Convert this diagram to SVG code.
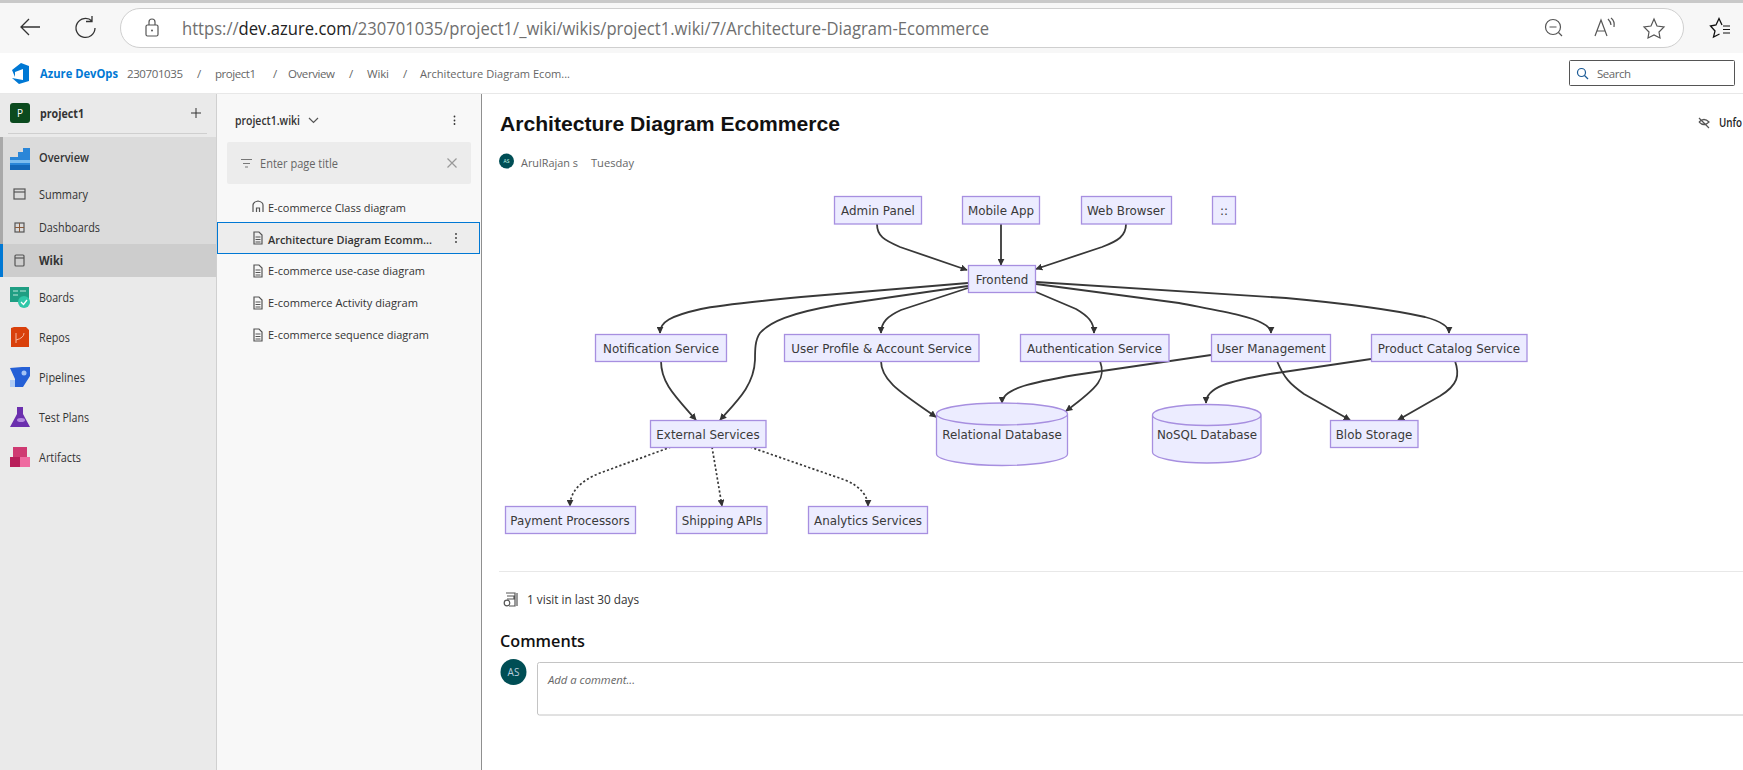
<svg xmlns="http://www.w3.org/2000/svg" width="1743" height="770" viewBox="0 0 1743 770">
<style>
text{font-family:"Open Sans","Liberation Sans",sans-serif;fill:#333}
.n rect,.n path.b{fill:#ececff;stroke:#a78fe0;stroke-width:1.3}
.n text{font-family:"DejaVu Sans",sans-serif;font-size:11.9px;fill:#3a3a3a;text-anchor:middle}
.e{fill:none;stroke:#383838;stroke-width:1.8;marker-end:url(#ah)}
.d{stroke-dasharray:2.2 2.2;stroke-width:1.7}
.nav{font-size:12px;fill:#333}
.pg{font-size:11.5px;fill:#333}
.cr{font-size:11.5px;fill:#666}
.ic{fill:none;stroke:#555;stroke-width:1.2}
</style>
<defs>
<marker id="ah" viewBox="0 0 10 10" refX="9" refY="5" markerUnits="userSpaceOnUse" markerWidth="7" markerHeight="7" orient="auto"><path d="M0,0L10,5L0,10z" fill="#333"/></marker>
</defs>
<rect width="1743" height="770" fill="#fff"/>
<g id="browser-chrome">
<rect width="1743" height="53" fill="#f7f7f7"/>
<rect width="1743" height="3" fill="#c9c9c9"/>
<rect x="120.500" y="8.500" width="1563" height="39" rx="19.500" fill="#fff" stroke="#cfcfcf"/>
<path d="M40,27H21M29,19L21,27L29,35" fill="none" stroke="#333" stroke-width="1.3"/>
<path d="M92,21A9.500,9.500 0 1 0 95,28M92,16V21.500H86" fill="none" stroke="#333" stroke-width="1.3"/>
<rect x="146" y="25" width="12" height="11" rx="1.500" class="ic"/><path d="M149,25V22A3,3 0 0 1 155,22V25" class="ic"/><circle cx="152" cy="30.500" r="1" fill="#555"/>
<text x="182" y="35" font-size="18" style="fill:#6f6f6f" textLength="807" lengthAdjust="spacingAndGlyphs">https://<tspan style="fill:#222">dev.azure.com</tspan>/230701035/project1/_wiki/wikis/project1.wiki/7/Architecture-Diagram-Ecommerce</text>
<circle cx="1553" cy="27" r="7.500" class="ic"/><path d="M1549.500,27H1556.500M1558.500,32.500L1562,36" class="ic"/>
<path d="M1595,36L1601,20L1607,36M1597,31H1605M1608,19Q1611,22 1611,25M1611,18Q1615,21 1614,27" class="ic"/>
<path d="M1654,19L1657,26L1664,27L1659,32L1660,38L1654,35L1648,38L1649,32L1644,27L1651,26z" class="ic"/>
<path d="M1722,25L1719,18.500L1716,25L1710.500,26L1715,31L1713.500,37L1719.500,34" fill="none" stroke="#111" stroke-width="1.300"/><path d="M1723,26H1730M1723,29.500H1730M1723,33H1730" stroke="#111"/>
</g>
<g id="header-bar">
<rect y="53" width="1743" height="40" fill="#fff"/>
<path d="M0,93.500H1743" stroke="#e8e8e8"/>
<path d="M12,70L21,63L29,66V81L19,84L12,78L23,80V69L15,72V77z" fill="#0078d4"/>
<text x="40" y="78" font-size="12.500" font-weight="700" style="fill:#0078d4" textLength="78" lengthAdjust="spacingAndGlyphs">Azure DevOps</text>
<text x="127" y="78" class="cr" textLength="56">230701035</text>
<text x="197" y="78" class="cr">/</text><text x="215" y="78" class="cr" textLength="41">project1</text>
<text x="273" y="78" class="cr">/</text><text x="288" y="78" class="cr" textLength="47">Overview</text>
<text x="349" y="78" class="cr">/</text><text x="367" y="78" class="cr" textLength="22">Wiki</text>
<text x="403" y="78" class="cr">/</text><text x="420" y="78" class="cr" textLength="150" lengthAdjust="spacingAndGlyphs">Architecture Diagram Ecom...</text>
<rect x="1569.500" y="60.500" width="165" height="25" rx="1" fill="#fff" stroke="#555"/>
<circle cx="1581.500" cy="72.500" r="4" fill="none" stroke="#1a5a96" stroke-width="1.200"/><path d="M1584.500,75.500L1588,79" stroke="#1a5a96" stroke-width="1.200"/>
<text x="1597" y="78" class="cr" textLength="34">Search</text>
</g>
<g id="project-sidebar">
<rect y="94" width="216" height="676" fill="#eaeaea"/>
<path d="M216.500,94V770" stroke="#d0d0d0"/>
<rect y="137" width="216" height="107" fill="#dbdbdb"/>
<rect y="137" width="3" height="107" fill="#a9a9a9"/>
<rect y="244" width="216" height="33" fill="#cdcdcd"/>
<rect y="244" width="3" height="33" fill="#0078d4"/>
<rect x="10" y="103" width="20" height="20" rx="3" fill="#0b4a1e"/>
<text x="20" y="117" font-size="10" style="fill:#fff" text-anchor="middle">P</text>
<text x="40" y="118" font-size="12.500" font-weight="700" textLength="44" lengthAdjust="spacingAndGlyphs">project1</text>
<path d="M196,108V118M191,113H201" stroke="#333"/>
<path d="M8,133.500H207" stroke="#cfcfcf"/>
<path d="M10,157H18V152H23V148H30V170H10z" fill="#2a86d8"/><rect x="10" y="160" width="20" height="3" fill="#7cbcee"/><rect x="10" y="165" width="20" height="5" fill="#1467b8"/>
<text x="39" y="162" class="nav" font-weight="600" textLength="50" lengthAdjust="spacingAndGlyphs">Overview</text>
<rect x="14" y="189" width="11" height="10" class="ic"/><path d="M14,192H25" class="ic"/>
<text x="39" y="199" class="nav" textLength="49" lengthAdjust="spacingAndGlyphs">Summary</text>
<rect x="15" y="223" width="9" height="9" class="ic"/><path d="M19.500,223V232M15,227.500H24" stroke="#8a5a3a"/>
<text x="39" y="232" class="nav" textLength="61" lengthAdjust="spacingAndGlyphs">Dashboards</text>
<rect x="15" y="255" width="9" height="11" rx="1" class="ic"/><path d="M15,258H24" class="ic"/>
<text x="39" y="265" class="nav" font-weight="700" textLength="24" lengthAdjust="spacingAndGlyphs">Wiki</text>
<rect x="10" y="287" width="19" height="15" fill="#1f9e83"/><path d="M13,291H18M20,291H26M13,295H18" stroke="#bfe8dc"/><circle cx="24" cy="302" r="6" fill="#2fc7a8"/><path d="M21,302L23.500,304.500L27,300" fill="none" stroke="#fff" stroke-width="1.300"/>
<text x="39" y="302" class="nav" textLength="35" lengthAdjust="spacingAndGlyphs">Boards</text>
<path d="M11,328L14,327H26L29,330V347H11z" fill="#d9400b"/><path d="M16,333V343M24,333Q24,338 16,340" fill="none" stroke="#f5b79f"/>
<text x="39" y="342" class="nav" textLength="31" lengthAdjust="spacingAndGlyphs">Repos</text>
<path d="M10,368L22,367L30,367V376L23,387H15V379z" fill="#2560d6"/><circle cx="24" cy="373" r="2.500" fill="#a4c4f5"/><path d="M10,380H15V387H10z" fill="#b0ccf5"/>
<text x="39" y="382" class="nav" textLength="46" lengthAdjust="spacingAndGlyphs">Pipelines</text>
<path d="M17,407H23V414L30,427H10L17,414z" fill="#6b2fae"/><ellipse cx="21" cy="420" rx="4" ry="2" fill="#b48ae0"/>
<text x="39" y="422" class="nav" textLength="50" lengthAdjust="spacingAndGlyphs">Test Plans</text>
<rect x="13" y="447" width="14" height="10" fill="#cf3a72"/><rect x="10" y="457" width="10" height="10" fill="#b81f5a"/><rect x="20" y="457" width="10" height="10" fill="#ef6aa0"/>
<text x="39" y="462" class="nav" textLength="42" lengthAdjust="spacingAndGlyphs">Artifacts</text>
</g>
<g id="wiki-panel">
<rect x="217" y="94" width="264" height="676" fill="#f8f8f8"/>
<path d="M481.500,94V770" stroke="#8f8f8f"/>
<text x="235" y="125" font-size="12" font-weight="600" textLength="65" lengthAdjust="spacingAndGlyphs">project1.wiki</text>
<path d="M309,118L313.500,122.500L318,118" class="ic"/>
<circle cx="454.500" cy="116.500" r=".9" fill="#333"/><circle cx="454.500" cy="120.500" r=".9" fill="#333"/><circle cx="454.500" cy="124" r=".9" fill="#333"/>
<rect x="227" y="142" width="244" height="42" rx="2" fill="#ececec"/>
<path d="M241,159.500H252M243,163.500H250M245,167H248" stroke="#777"/>
<text x="260" y="168" font-size="12" style="fill:#666" textLength="78" lengthAdjust="spacingAndGlyphs">Enter page title</text>
<path d="M447.500,158.500L456.500,167.500M456.500,158.500L447.500,167.500" stroke="#999" stroke-width="1.200"/>
<path d="M253,212V205Q253,202 258,201Q263,202 263,205V212M256.500,212V208H259.500V212" class="ic"/>
<text x="268" y="212" class="pg" textLength="138" lengthAdjust="spacingAndGlyphs">E-commerce Class diagram</text>
<rect x="217.500" y="222.500" width="262" height="31" fill="#ededed" stroke="#0078d4"/>
<path d="M254,232H259L262,235V244H254zM255.500,237H260.500M255.500,239.500H260.500M255.500,242H260.500" class="ic"/>
<text x="268" y="244" class="pg" font-weight="600" textLength="164" lengthAdjust="spacingAndGlyphs">Architecture Diagram Ecomm...</text>
<circle cx="456" cy="234" r=".9" fill="#333"/><circle cx="456" cy="238" r=".9" fill="#333"/><circle cx="456" cy="242" r=".9" fill="#333"/>
<path d="M254,265H259L262,268V277H254zM255.500,270H260.500M255.500,272.500H260.500M255.500,275H260.500" class="ic"/>
<text x="268" y="275" class="pg" textLength="157" lengthAdjust="spacingAndGlyphs">E-commerce use-case diagram</text>
<path d="M254,297H259L262,300V309H254zM255.500,302H260.500M255.500,304.500H260.500M255.500,307H260.500" class="ic"/>
<text x="268" y="307" class="pg" textLength="150" lengthAdjust="spacingAndGlyphs">E-commerce Activity diagram</text>
<path d="M254,329H259L262,332V341H254zM255.500,334H260.500M255.500,336.500H260.500M255.500,339H260.500" class="ic"/>
<text x="268" y="339" class="pg" textLength="161" lengthAdjust="spacingAndGlyphs">E-commerce sequence diagram</text>
</g>
<g id="page-header">
<text x="500" y="131" font-size="21" font-weight="700" style="fill:#111;font-family:'Liberation Sans',sans-serif" textLength="340" lengthAdjust="spacingAndGlyphs">Architecture Diagram Ecommerce</text>
<circle cx="506.500" cy="161" r="7.500" fill="#004e55"/>
<text x="506.500" y="163" font-size="5" style="fill:#cfe" text-anchor="middle">AS</text>
<text x="521" y="167" font-size="11.500" style="fill:#666" textLength="57" lengthAdjust="spacingAndGlyphs">ArulRajan s</text>
<text x="591" y="167" font-size="11.500" style="fill:#666" textLength="43" lengthAdjust="spacingAndGlyphs">Tuesday</text>
<path d="M1699,118L1709,128M1699,122Q1704,117 1709,122Q1704,127 1699,122" class="ic"/>
<text x="1719" y="127" font-size="12" font-weight="600" style="fill:#222" textLength="23" lengthAdjust="spacingAndGlyphs">Unfo</text>
</g>
<g id="connectors">
<path class="e" d="M877,224C877,236 884,240 900,247L967,270"/>
<path class="e" d="M1001,224V265"/>
<path class="e" d="M1126,224C1126,236 1118,241 1102,247L1036,269"/>
<path class="e" d="M968,283L801,297C740,303 715,306 701,309C670,316 660,322 660,333"/>
<path class="e" d="M968,286L837,305C790,313 770,322 760,333C755,340 755,350 755,360C754,385 738,400 720,420"/>
<path class="e" d="M968,288L901,310C888,316 881,322 881,333"/>
<path class="e" d="M1036,292L1076,309C1088,316 1094,322 1094,333"/>
<path class="e" d="M1036,284L1179,303C1225,312 1250,316 1262,323C1268,326 1271,329 1271,333"/>
<path class="e" d="M1036,282L1286,298C1340,303 1385,308 1425,317C1440,321 1449,326 1449,333"/>
<path class="e" d="M661,361C661,383 675,396 696,420"/>
<path class="e" d="M881,361C881,382 905,395 936,417"/>
<path class="e" d="M1211,355L1075,375C1035,382 1002,388 1002,403"/>
<path class="e" d="M1100,361C1106,378 1100,386 1066,411"/>
<path class="e" d="M1371,359L1270,374C1230,381 1206,387 1206,403"/>
<path class="e" d="M1277,361C1284,378 1290,384 1304,394L1350,420"/>
<path class="e" d="M1455,361C1460,375 1458,385 1440,396L1398,420"/>
<path class="e d" d="M671,447L600,473C580,481 570,492 570,506"/>
<path class="e d" d="M712,447L722,506"/>
<path class="e d" d="M750,447L845,480C860,486 868,496 868,506"/>
</g>
<g id="admin-panel" class="n"><rect x="834.500" y="196.500" width="87" height="27.500"/><text x="878" y="215">Admin Panel</text></g>
<g id="mobile-app" class="n"><rect x="962.500" y="196.500" width="77" height="27.500"/><text x="1001" y="215">Mobile App</text></g>
<g id="web-browser" class="n"><rect x="1081.500" y="196.500" width="90" height="27.500"/><text x="1126" y="215">Web Browser</text></g>
<g id="colons" class="n"><rect x="1212.500" y="196.500" width="23" height="27.500"/><text x="1224" y="215">::</text></g>
<g id="frontend" class="n"><rect x="968.500" y="265.500" width="67" height="27"/><text x="1002" y="284">Frontend</text></g>
<g id="notification-service" class="n"><rect x="595.500" y="334.500" width="131" height="27"/><text x="661" y="353">Notification Service</text></g>
<g id="user-profile" class="n"><rect x="784.500" y="334.500" width="194.500" height="27"/><text x="881.500" y="353">User Profile &amp; Account Service</text></g>
<g id="authentication-service" class="n"><rect x="1020.500" y="334.500" width="148.500" height="27"/><text x="1094.500" y="353">Authentication Service</text></g>
<g id="user-management" class="n"><rect x="1211.500" y="334.500" width="119" height="27"/><text x="1271" y="353">User Management</text></g>
<g id="product-catalog" class="n"><rect x="1371.500" y="334.500" width="155.500" height="27"/><text x="1449" y="353">Product Catalog Service</text></g>
<g id="external-services" class="n"><rect x="650.500" y="420.500" width="115.500" height="27"/><text x="708" y="439">External Services</text></g>
<g id="relational-database" class="n"><path class="b" d="M936.500,414V454C936.500,460 966,465.500 1002,465.500C1038,465.500 1067.500,460 1067.500,454V414C1067.500,408 1038,403 1002,403C966,403 936.500,408 936.500,414C936.500,420 966,425 1002,425C1038,425 1067.500,420 1067.500,414"/><text x="1002" y="439">Relational Database</text></g>
<g id="nosql-database" class="n"><path class="b" d="M1152.500,415V452C1152.500,458 1177,463 1207,463C1237,463 1261,458 1261,452V415C1261,409 1237,404.500 1207,404.500C1177,404.500 1152.500,409 1152.500,415C1152.500,421 1177,425.500 1207,425.500C1237,425.500 1261,421 1261,415"/><text x="1207" y="439">NoSQL Database</text></g>
<g id="blob-storage" class="n"><rect x="1330.500" y="420.500" width="87.500" height="27"/><text x="1374" y="439">Blob Storage</text></g>
<g id="payment-processors" class="n"><rect x="505.500" y="506.500" width="130" height="27"/><text x="570" y="525">Payment Processors</text></g>
<g id="shipping-apis" class="n"><rect x="676.500" y="506.500" width="90.500" height="27"/><text x="722" y="525">Shipping APIs</text></g>
<g id="analytics-services" class="n"><rect x="808.500" y="506.500" width="119" height="27"/><text x="868" y="525">Analytics Services</text></g>
<g id="page-footer">
<path d="M499,571.500H1743" stroke="#e8e8e8"/>
<path d="M506,593H515V606H509M507,596H514V599H507M517,593V606" class="ic"/><circle cx="507" cy="603" r="2.800" class="ic"/>
<text x="527" y="604" font-size="12" textLength="112" lengthAdjust="spacingAndGlyphs">1 visit in last 30 days</text>
<text x="500" y="647" font-size="15.500" font-weight="600" style="fill:#111" textLength="85" lengthAdjust="spacingAndGlyphs">Comments</text>
<circle cx="513.500" cy="672" r="13" fill="#004e55"/>
<text x="513.500" y="676" font-size="10" style="fill:#bcd" text-anchor="middle">AS</text>
<rect x="537.500" y="662.500" width="1260" height="52.500" rx="2" fill="#fff" stroke="#c4c4c4"/>
<text x="548" y="684" font-size="11.500" font-style="italic" style="fill:#666" textLength="87" lengthAdjust="spacingAndGlyphs">Add a comment...</text>
</g>
</svg>
